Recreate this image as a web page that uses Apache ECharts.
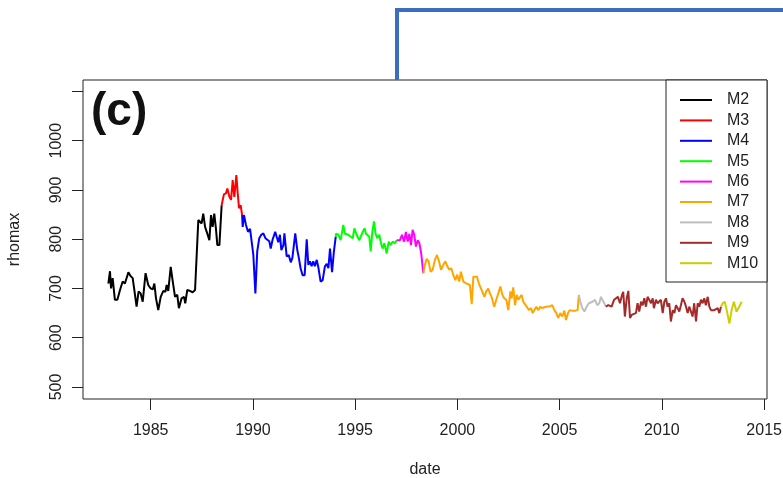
<!DOCTYPE html>
<html>
<head>
<meta charset="utf-8">
<script src="https://cdn.jsdelivr.net/npm/echarts@6/dist/echarts.min.js"></script>
<style>
html,body{margin:0;padding:0;background:#fff;}
#c{width:783px;height:478px;}
</style>
</head>
<body>
<div id="c"></div>
<script>
// ---- data (decimal year, rhomax) ----
const seriesNames = ['M2','M3','M4','M5','M6','M7','M8','M9','M10'];
const seriesColors = ['#000000','#FF0000','#0000FF','#00FF00','#FF00FF','#FFA500','#BEBEBE','#A52A2A','#CDCD00'];

const m2Years = [1982.93,1983.01,1983.06,1983.14,1983.25,1983.37,1983.50,1983.63,1983.74,1983.91,1984.02,1984.12,1984.20,1984.31,1984.41,1984.51,1984.61,1984.75,1984.88,1985.00,1985.10,1985.18,1985.26,1985.37,1985.49,1985.62,1985.72,1985.78,1985.86,1985.98,1986.07,1986.19,1986.30,1986.38,1986.51,1986.63,1986.69,1986.79,1986.92,1987.05,1987.17,1987.25,1987.33,1987.41,1987.49,1987.57,1987.66,1987.74,1987.87,1987.95,1988.03,1988.11,1988.19,1988.26,1988.36,1988.47];
const m2Vals  = [710,735,700,721,677,677,697,714,710,733,725,721,697,663,694,690,673,731,707,700,698,710,680,656,683,695,693,707,695,744,717,683,687,660,680,683,670,697,695,692,697,700,839,843,832,852,825,815,798,849,825,852,822,788,788,869];

const m3Years = [1988.47,1988.58,1988.68,1988.75,1988.85,1988.93,1989.01,1989.09,1989.19,1989.25,1989.32,1989.40,1989.47];
const m3Vals  = [869,891,893,903,886,880,920,886,930,896,863,869,849];

const m4Years = [1989.47,1989.50,1989.56,1989.66,1989.76,1989.86,1989.94,1990.02,1990.12,1990.21,1990.31,1990.41,1990.51,1990.61,1990.70,1990.80,1990.87,1990.96,1991.09,1991.16,1991.24,1991.32,1991.39,1991.49,1991.54,1991.65,1991.75,1991.85,1991.93,1991.98,1992.07,1992.17,1992.25,1992.33,1992.43,1992.53,1992.63,1992.71,1992.79,1992.87,1992.95,1993.03,1993.12,1993.20,1993.31,1993.41,1993.52,1993.61,1993.69,1993.77,1993.87,1993.96,1994.05];
const m4Vals  = [849,825,849,829,815,821,819,768,690,775,802,809,812,802,803,796,781,799,815,805,794,809,778,788,812,765,768,753,762,760,812,778,761,741,727,727,800,748,755,745,755,745,758,743,714,717,745,750,741,781,733,775,805];

const m5Years = [1994.05,1994.06,1994.18,1994.29,1994.42,1994.50,1994.58,1994.66,1994.78,1994.88,1994.96,1995.07,1995.20,1995.27,1995.37,1995.46,1995.53,1995.61,1995.69,1995.76,1995.84,1995.92,1996.00,1996.08,1996.18,1996.26,1996.34,1996.43,1996.54,1996.64,1996.73,1996.83,1996.95,1997.03];
const m5Vals  = [805,811,809,798,829,811,815,809,805,802,822,809,798,795,815,822,811,811,805,775,815,836,811,802,809,792,781,792,771,795,788,795,792,798];

const m6Years = [1997.03,1997.11,1997.19,1997.29,1997.39,1997.48,1997.57,1997.65,1997.73,1997.81,1997.89,1997.97,1998.06,1998.14,1998.23,1998.33];
const m6Vals  = [798,795,798,809,795,815,795,811,788,819,809,785,798,792,771,731];

const m7Years = [1998.33,1998.41,1998.50,1998.59,1998.69,1998.79,1998.90,1999.00,1999.10,1999.20,1999.31,1999.41,1999.51,1999.60,1999.70,1999.80,1999.90,1999.99,2000.09,2000.17,2000.29,2000.37,2000.45,2000.53,2000.61,2000.70,2000.78,2000.86,2000.96,2001.05,2001.15,2001.23,2001.32,2001.41,2001.51,2001.59,2001.67,2001.80,2001.90,2002.00,2002.10,2002.20,2002.29,2002.39,2002.49,2002.59,2002.65,2002.73,2002.82,2002.90,2002.98,2003.06,2003.14,2003.22,2003.30,2003.39,2003.50,2003.60,2003.68,2003.76,2003.86,2003.96,2004.05,2004.15,2004.25,2004.35,2004.44,2004.54,2004.64,2004.74,2004.84,2004.93,2005.03,2005.13,2005.23,2005.31,2005.41,2005.49,2005.59,2005.68,2005.78,2005.88,2005.94];
const m7Vals  = [731,748,760,755,734,738,758,768,755,738,748,755,745,738,741,727,717,728,714,734,714,717,710,714,707,668,724,727,724,710,700,704,683,694,700,690,683,663,677,690,704,687,680,677,656,694,680,702,666,687,677,673,687,673,675,663,656,660,650,656,663,656,663,660,662,663,662,664,666,656,650,640,650,643,655,636,650,656,655,656,655,656,687];

const m8Years = [2005.94,2006.01,2006.11,2006.21,2006.32,2006.43,2006.61,2006.73,2006.84,2006.94,2007.02,2007.10,2007.18,2007.26];
const m8Vals  = [687,673,660,653,663,670,673,677,666,670,683,680,670,663];

const m9Years = [2007.26,2007.38,2007.46,2007.54,2007.66,2007.75,2007.85,2007.95,2008.05,2008.11,2008.19,2008.28,2008.36,2008.44,2008.54,2008.63,2008.73,2008.81,2008.89,2008.98,2009.06,2009.14,2009.22,2009.30,2009.38,2009.47,2009.55,2009.61,2009.71,2009.79,2009.87,2009.95,2010.04,2010.12,2010.20,2010.28,2010.36,2010.44,2010.53,2010.61,2010.69,2010.77,2010.85,2010.93,2011.01,2011.10,2011.18,2011.26,2011.34,2011.42,2011.50,2011.58,2011.67,2011.75,2011.83,2011.91,2011.99,2012.07,2012.15,2012.24,2012.32,2012.40,2012.48,2012.56,2012.64,2012.73,2012.81,2012.89];
const m9Vals  = [663,666,670,663,677,673,683,670,687,693,643,680,695,640,647,643,650,670,653,673,666,680,663,683,677,670,680,660,677,670,666,677,650,673,680,663,670,633,656,650,666,660,653,666,680,673,663,650,663,666,643,670,633,670,663,677,670,680,666,683,663,656,660,656,653,660,650,663];

const m10Years = [2012.89,2012.97,2013.07,2013.17,2013.30,2013.41,2013.52,2013.65,2013.78,2013.90];
const m10Vals  = [663,670,673,656,629,656,673,653,663,673];

const xTickValues = [1985,1990,1995,2000,2005,2010,2015];
const yTickValues = [500,600,700,800,900,1000,1100];
const yLabelValues = [500,600,700,800,900,1000];

const allYears = [m2Years,m3Years,m4Years,m5Years,m6Years,m7Years,m8Years,m9Years,m10Years];
const allVals  = [m2Vals,m3Vals,m4Vals,m5Vals,m6Vals,m7Vals,m8Vals,m9Vals,m10Vals];

const FONT = 'Liberation Sans';
const TXT = '#222';

const chart = echarts.init(document.getElementById('c'), null, {renderer:'canvas'});

const series = seriesNames.map((n, i) => ({
  name: n,
  type: 'line',
  data: allYears[i].map((y, k) => [y, allVals[i][k]]),
  symbol: 'none',
  showSymbol: false,
  lineStyle: {color: seriesColors[i], width: 2},
  itemStyle: {color: seriesColors[i]},
  z: 3,
  silent: true
}));

chart.setOption({
  animation: false,
  backgroundColor: '#fff',
  textStyle: {fontFamily: FONT},
  grid: {left: 83, top: 80, width: 684, height: 319, show: true, borderColor: TXT, borderWidth: 1, backgroundColor: 'transparent', containLabel: false, outerBoundsMode: 'none'},
  xAxis: {
    type: 'value', min: 1981.69, max: 2015.14,
    name: 'date', nameLocation: 'middle', nameGap: 63,
    nameTextStyle: {fontSize: 16, color: TXT, fontFamily: FONT},
    axisLine: {show: false},
    axisTick: {show: true, inside: false, length: 11, customValues: xTickValues, lineStyle: {color: TXT, width: 1}},
    axisLabel: {show: true, customValues: xTickValues, margin: 24, fontSize: 16, color: TXT, fontFamily: FONT, formatter: v => String(v)},
    splitLine: {show: false}
  },
  yAxis: {
    type: 'value', min: 475.6, max: 1123.2,
    name: 'rhomax', nameLocation: 'middle', nameGap: 60, nameRotate: 90,
    nameTextStyle: {fontSize: 16, color: TXT, fontFamily: FONT},
    axisLine: {show: false},
    axisTick: {show: true, inside: false, length: 11, customValues: yTickValues, lineStyle: {color: TXT, width: 1}},
    axisLabel: {show: true, customValues: yLabelValues, rotate: 90, margin: 18, fontSize: 16, color: TXT, fontFamily: FONT, formatter: v => String(v)},
    splitLine: {show: false}
  },
  legend: {
    orient: 'vertical', left: 680, top: 92, padding: 0,
    itemWidth: 32, itemHeight: 14, itemGap: 4.4,
    icon: 'path://M0,0 L32,0 L32,2 L0,2 Z',
    selectedMode: false,
    textStyle: {fontSize: 16, color: TXT, fontFamily: FONT, padding: [0,0,0,10]},
    data: seriesNames,
    z: 10
  },
  graphic: [
    {type: 'rect', shape: {x: 666, y: 80, width: 101, height: 202}, style: {fill: '#fff', stroke: TXT, lineWidth: 1}, z: 5, silent: true},
    {type: 'polyline', shape: {points: [[397, 80], [397, 10], [790, 10]]}, style: {stroke: '#3C6EBF', lineWidth: 4, fill: null}, z: 6, silent: true},
    {type: 'text', x: 91, y: 89, style: {text: '(c)', font: 'bold 46px "Liberation Sans"', fill: '#111', verticalAlign: 'top', align: 'left'}, z: 6, silent: true}
  ],
  series: series
});
</script>
</body>
</html>
